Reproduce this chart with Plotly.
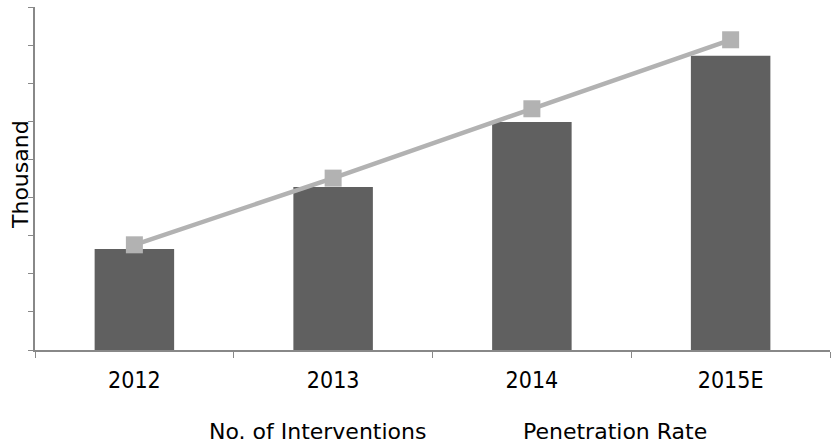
import plotly.graph_objects as go

categories = ["2012", "2013", "2014", "2015E"]
interventions = [2.65, 4.28, 5.98, 7.72]
penetration = [2.76, 4.51, 6.33, 8.14]
legend_labels = ["No. of Interventions", "Penetration Rate"]
y_title = "Thousand"

FONT = "DejaVu Sans"
FONT_C = "DejaVu Sans Condensed, DejaVu Sans"

L, R, T, B = 35, 2, 7, 93
W, H = 832, 443
PW, PH = W - L - R, H - T - B

fig = go.Figure()
fig.add_trace(go.Bar(x=categories, y=interventions, name=legend_labels[0],
                     marker=dict(color="#606060", line=dict(width=0)), width=0.4,
                     showlegend=False))
fig.add_trace(go.Scatter(x=categories, y=penetration, name=legend_labels[1],
                         mode="lines+markers",
                         line=dict(color="#b2b2b2", width=4.5),
                         marker=dict(symbol="square", size=17, color="#b2b2b2"),
                         showlegend=False))

fig.update_layout(
    width=W, height=H,
    margin=dict(l=L, r=R, t=T, b=B),
    paper_bgcolor="white", plot_bgcolor="white",
    font=dict(family=FONT, size=16, color="#000000"),
    xaxis=dict(type="category", range=[-0.5, 3.5], tickson="boundaries",
               ticks="outside", ticklen=6, tickcolor="#888888",
               showline=True, linecolor="#888888", linewidth=1.5,
               showgrid=False, automargin=False, ticklabelstandoff=9,
               tickfont=dict(size=23, family=FONT_C)),
    yaxis=dict(range=[0, 9], dtick=1, ticks="outside", ticklen=5,
               tickcolor="#888888", showticklabels=False,
               showline=True, linecolor="#888888", linewidth=1.5,
               showgrid=False, zeroline=False, automargin=False),
    annotations=[
        dict(text=y_title, xref="paper", yref="paper", x=(20 - L) / PW,
             y=(H - B - 175) / PH, xanchor="center", yanchor="middle",
             textangle=-90, showarrow=False,
             font=dict(size=22, family=FONT)),
        dict(text=legend_labels[0], xref="paper", yref="paper", x=(207 - L) / PW,
             y=(H - B - 431) / PH, xanchor="left", yanchor="middle", showarrow=False,
             font=dict(size=22, family=FONT)),
        dict(text=legend_labels[1], xref="paper", yref="paper", x=(521 - L) / PW,
             y=(H - B - 431) / PH, xanchor="left", yanchor="middle", showarrow=False,
             font=dict(size=22, family=FONT)),
    ],
)

fig.write_html("out.html", config={"displayModeBar": False},
               post_script="document.body.style.margin='0';document.body.style.overflow='hidden';")
